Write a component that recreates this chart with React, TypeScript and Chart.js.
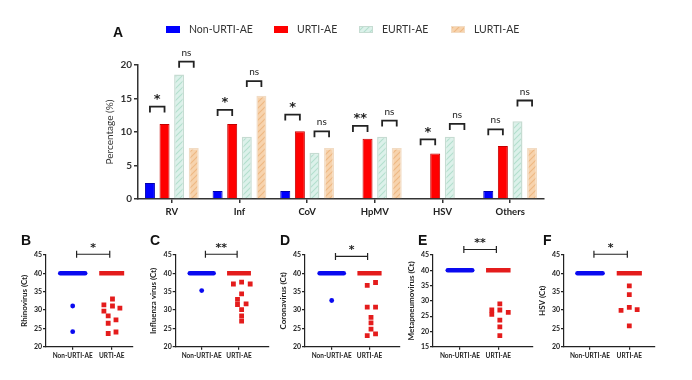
import React, { useEffect, useRef } from 'react';
import { Chart, registerables } from 'chart.js';

Chart.register(...registerables);

const FONT = 'Lato, "Noto Sans", sans-serif';
const STAR_FONT = '"DejaVu Sans", sans-serif';
Chart.defaults.font.family = FONT;

// ---------------- Panel A data ----------------
const virusCategories = ['RV', 'Inf', 'CoV', 'HpMV', 'HSV', 'Others'];
const seriesNames = ['Non-URTI-AE', 'URTI-AE', 'EURTI-AE', 'LURTI-AE'];
const nonUrtiPct = [2.4, 1.2, 1.2, 0, 0, 1.2];
const urtiPct = [11.2, 11.2, 10.1, 9.0, 6.8, 7.9];
const eurtiPct = [18.6, 9.3, 6.9, 9.3, 9.3, 11.6];
const lurtiPct = [7.6, 15.4, 7.6, 7.6, 0, 7.6];
// significance: Non-URTI-AE vs URTI-AE, and EURTI-AE vs LURTI-AE
const sigNonVsUrti = ['*', '*', '*', '**', '*', 'ns'];
const sigNonVsUrtiLevel = [13.8, 13.3, 12.6, 10.9, 8.9, 10.4];
const sigEarlyVsLate = ['ns', 'ns', 'ns', 'ns', 'ns', 'ns'];
const sigEarlyVsLateLevel = [20.5, 17.6, 10.1, 11.7, 11.2, 14.7];

// ---------------- Panels B-F data ----------------
const groupLabels = ['Non-URTI-AE', 'URTI-AE'];
const undetectedCt = 40;

const rvNonCt = [31.1, 24.1];
const rvNonJit = [0, 0];
const rvUrtiCt = [33.0, 31.4, 31.1, 30.5, 29.7, 28.4, 27.3, 26.4, 24.0, 23.6];
const rvUrtiJit = [0.02, -0.2, 0.02, 0.21, -0.2, -0.09, 0.11, -0.09, 0.11, -0.09];

const infNonCt = [35.3];
const infNonJit = [0];
const infUrtiCt = [37.1, 37.6, 37.1, 34.4, 32.9, 31.7, 31.5, 30.1, 28.4, 27.0];
const infUrtiJit = [-0.15, 0.07, 0.3, 0.07, -0.04, 0.19, -0.04, 0.07, 0.07, 0.07];

const covNonCt = [32.6];
const covNonJit = [0];
const covUrtiCt = [36.7, 37.5, 30.8, 30.8, 28.0, 26.5, 24.8, 23.5, 23.0];
const covUrtiJit = [-0.06, 0.16, -0.06, 0.16, 0.04, 0.04, 0.04, 0.16, -0.06];

const hmpvNonCt: number[] = [];
const hmpvNonJit: number[] = [];
const hmpvUrtiCt = [27.0, 25.6, 29.0, 27.0, 26.2, 23.7, 21.5, 18.6];
const hmpvUrtiJit = [-0.17, -0.17, 0.04, 0.04, 0.26, 0.04, 0.04, 0.04];

const hsvNonCt: number[] = [];
const hsvNonJit: number[] = [];
const hsvUrtiCt = [36.6, 34.2, 30.7, 29.9, 30.1, 25.7];
const hsvUrtiJit = [0, 0, 0, -0.21, 0.2, 0];

const panels = [
  { letter: 'B', yTitle: 'Rhinovirus (Ct)', yMin: 20, yMax: 45, nonCt: rvNonCt, nonJit: rvNonJit, urtiCt: rvUrtiCt, urtiJit: rvUrtiJit, sig: '*', sigLevel: 45.2 },
  { letter: 'C', yTitle: 'Influenza virus (Ct)', yMin: 20, yMax: 45, nonCt: infNonCt, nonJit: infNonJit, urtiCt: infUrtiCt, urtiJit: infUrtiJit, sig: '**', sigLevel: 45.2 },
  { letter: 'D', yTitle: 'Coronavirus (Ct)', yMin: 20, yMax: 45, nonCt: covNonCt, nonJit: covNonJit, urtiCt: covUrtiCt, urtiJit: covUrtiJit, sig: '*', sigLevel: 44.6 },
  { letter: 'E', yTitle: 'Metapneumovirus (Ct)', yMin: 15, yMax: 45, nonCt: hmpvNonCt, nonJit: hmpvNonJit, urtiCt: hmpvUrtiCt, urtiJit: hmpvUrtiJit, sig: '**', sigLevel: 46.8 },
  { letter: 'F', yTitle: 'HSV (Ct)', yMin: 20, yMax: 45, nonCt: hsvNonCt, nonJit: hsvNonJit, urtiCt: hsvUrtiCt, urtiJit: hsvUrtiJit, sig: '*', sigLevel: 45.2 },
];

// ---------------- Layout (positions only) ----------------
const panelLayout = [
  { axisX: 46, tick1: 72.7, tick2: 111.7, endX: 133, letterX: 21 },
  { axisX: 175.7, tick1: 201.7, tick2: 239, endX: 268.3, letterX: 150 },
  { axisX: 305, tick1: 331.7, tick2: 369.5, endX: 400, letterX: 280 },
  { axisX: 433, tick1: 460, tick2: 498.3, endX: 533, letterX: 418 },
  { axisX: 564, tick1: 590, tick2: 629.3, endX: 655, letterX: 543 },
];
const legendX = [166, 274, 359, 451];
const BLUE = '#0a0af0';
const RED = '#e41c1c';
const INK = '#222';

function hatch(bg: string, stripe: string): any {
  const c = document.createElement('canvas');
  c.width = 6;
  c.height = 6;
  const g = c.getContext('2d')!;
  g.fillStyle = bg;
  g.fillRect(0, 0, 6, 6);
  g.strokeStyle = stripe;
  g.lineWidth = 1.1;
  g.beginPath();
  g.moveTo(0, 6);
  g.lineTo(6, 0);
  g.moveTo(-1, 1);
  g.lineTo(1, -1);
  g.moveTo(5, 7);
  g.lineTo(7, 5);
  g.stroke();
  return g.createPattern(c, 'repeat');
}

const legendPlugin = {
  id: 'manualLegend',
  afterDraw(chart: any) {
    const ctx = chart.ctx;
    ctx.save();
    chart.data.datasets.forEach((ds: any, i: number) => {
      const x = legendX[i];
      const y = 26;
      ctx.fillStyle = ds.backgroundColor;
      ctx.fillRect(x, y, 14, 7);
      if (i >= 2) {
        ctx.strokeStyle = ds.borderColor;
        ctx.lineWidth = 1;
        ctx.strokeRect(x + 0.5, y + 0.5, 13, 6);
      }
      ctx.fillStyle = '#333';
      ctx.font = `10.5px ${FONT}`;
      ctx.textBaseline = 'middle';
      ctx.textAlign = 'left';
      ctx.fillText(ds.label, x + 23, y + 3.5);
    });
    ctx.restore();
  },
};

function drawSigA(ctx: any, x1: number, x2: number, yy: number, label: string) {
  ctx.beginPath();
  ctx.moveTo(x1, yy + 6);
  ctx.lineTo(x1, yy);
  ctx.lineTo(x2, yy);
  ctx.lineTo(x2, yy + 6);
  ctx.stroke();
  const cx = (x1 + x2) / 2;
  ctx.textAlign = 'center';
  ctx.textBaseline = 'alphabetic';
  if (label.includes('*')) {
    ctx.font = `bold 13px ${STAR_FONT}`;
    ctx.fillText(label, cx, yy - 3.5);
  } else {
    ctx.font = `10px ${FONT}`;
    ctx.fillText(label, cx, yy - 6);
  }
}

const sigPluginA = {
  id: 'sigA',
  afterDraw(chart: any) {
    const ctx = chart.ctx;
    const y = chart.scales.y;
    const m = [0, 1, 2, 3].map((i) => chart.getDatasetMeta(i));
    ctx.save();
    ctx.strokeStyle = INK;
    ctx.fillStyle = INK;
    ctx.lineWidth = 1.8;
    virusCategories.forEach((_, i) => {
      drawSigA(ctx, m[0].data[i].x, m[1].data[i].x, y.getPixelForValue(sigNonVsUrtiLevel[i]), sigNonVsUrti[i]);
      drawSigA(ctx, m[2].data[i].x, m[3].data[i].x, y.getPixelForValue(sigEarlyVsLateLevel[i]), sigEarlyVsLate[i]);
    });
    ctx.restore();
  },
};

function PanelA() {
  const ref = useRef<HTMLCanvasElement>(null);
  useEffect(() => {
    const green = hatch('#dcf1ea', '#b3dfce');
    const orange = hatch('#f7d3ad', '#eeb883');
    const axisGrid = { display: true, offset: false, drawOnChartArea: false, drawTicks: true, tickLength: 4, color: '#333', lineWidth: 1.5 };
    const chart = new Chart(ref.current!, {
      type: 'bar',
      data: {
        labels: virusCategories,
        datasets: [
          { label: seriesNames[0], data: nonUrtiPct, backgroundColor: '#0000ff', borderColor: '#0000b0', borderWidth: 1 },
          { label: seriesNames[1], data: urtiPct, backgroundColor: '#ff0000', borderColor: '#c40000', borderWidth: 1 },
          { label: seriesNames[2], data: eurtiPct, backgroundColor: green, borderColor: '#c6dcd2', borderWidth: 1.5 },
          { label: seriesNames[3], data: lurtiPct, backgroundColor: orange, borderColor: '#f2dcc4', borderWidth: 1.5 },
        ],
      },
      options: {
        responsive: false,
        animation: false,
        layout: { padding: { left: 104, right: 148, top: 65, bottom: 0 } },
        datasets: { bar: { categoryPercentage: 0.863, barPercentage: 0.685 } } as any,
        plugins: { legend: { display: false }, tooltip: { enabled: false } },
        scales: {
          x: {
            grid: axisGrid as any,
            border: { display: true, color: '#333', width: 1.5 },
            ticks: { font: { size: 9.5, weight: 'bold' }, color: INK, padding: 3, maxRotation: 0, autoSkip: false },
            afterFit: (s: any) => { s.height = 26; },
          },
          y: {
            min: 0,
            max: 20,
            grid: axisGrid as any,
            border: { display: true, color: '#333', width: 1.5 },
            ticks: { stepSize: 5, font: { size: 10, weight: 'bold' }, color: '#333', padding: 2 },
            title: { display: true, text: 'Percentage (%)', font: { size: 10 }, color: '#333', padding: 0 },
            afterFit: (s: any) => { s.width = 34; },
          },
        },
      },
      plugins: [legendPlugin, sigPluginA],
    });
    return () => chart.destroy();
  }, []);
  return (
    <canvas
      ref={ref}
      width={692}
      height={225}
      style={{ position: 'absolute', left: 0, top: 0, width: 692, height: 225 }}
    />
  );
}

const LINE_HALF = 0.32;

function ScatterPanel({ p, L }: { p: any; L: any }) {
  const ref = useRef<HTMLCanvasElement>(null);
  const W = 26;
  const left = Math.floor(L.axisX - W);
  const yAxisW = L.axisX - left;
  const width = Math.ceil(L.endX - left + 4);
  const top = 238;
  const height = 132;
  useEffect(() => {
    const unit = L.tick2 - L.tick1;
    const xMin = 1 - (L.tick1 - L.axisX) / unit;
    const xMax = 2 + (L.endX - L.tick2) / unit;
    const sigPlugin = {
      id: 'sigSmall',
      afterDraw(chart: any) {
        const ctx = chart.ctx;
        const xs = chart.scales.x;
        const ys = chart.scales.y;
        const x1 = xs.getPixelForValue(1.1);
        const x2 = xs.getPixelForValue(1.95);
        const yy = ys.getPixelForValue(p.sigLevel);
        ctx.save();
        ctx.strokeStyle = INK;
        ctx.fillStyle = INK;
        ctx.lineWidth = 1.2;
        ctx.beginPath();
        ctx.moveTo(x1, yy);
        ctx.lineTo(x2, yy);
        ctx.moveTo(x1, yy - 3.5);
        ctx.lineTo(x1, yy + 3.5);
        ctx.moveTo(x2, yy - 3.5);
        ctx.lineTo(x2, yy + 3.5);
        ctx.stroke();
        ctx.font = `bold 11px ${STAR_FONT}`;
        ctx.textAlign = 'center';
        ctx.textBaseline = 'alphabetic';
        ctx.fillText(p.sig, (x1 + x2) / 2, yy - 3);
        ctx.restore();
      },
    };
    const axisGrid = { display: true, drawOnChartArea: false, drawTicks: true, tickLength: 3, color: INK, lineWidth: 1.2 };
    const chart = new Chart(ref.current!, {
      type: 'scatter',
      data: {
        datasets: [
          {
            type: 'line',
            data: [{ x: 1 - LINE_HALF, y: undetectedCt }, { x: 1 + LINE_HALF, y: undetectedCt }],
            borderColor: BLUE,
            borderWidth: 4.5,
            borderCapStyle: 'round',
            pointRadius: 0,
            showLine: true,
          } as any,
          {
            type: 'line',
            data: [{ x: 2 - LINE_HALF, y: undetectedCt }, { x: 2 + LINE_HALF, y: undetectedCt }],
            borderColor: RED,
            borderWidth: 4.5,
            borderCapStyle: 'butt',
            pointRadius: 0,
            showLine: true,
          } as any,
          {
            data: p.nonCt.map((v: number, i: number) => ({ x: 1 + p.nonJit[i], y: v })),
            pointStyle: 'circle',
            pointRadius: 2.4,
            backgroundColor: BLUE,
            borderWidth: 0,
          },
          {
            data: p.urtiCt.map((v: number, i: number) => ({ x: 2 + p.urtiJit[i], y: v })),
            pointStyle: 'rect',
            pointRadius: 3.4,
            backgroundColor: RED,
            borderWidth: 0,
          },
        ],
      },
      options: {
        responsive: false,
        animation: false,
        layout: { padding: { left: 0, right: width - (L.endX - left), top: 255 - top, bottom: 0 } },
        plugins: { legend: { display: false }, tooltip: { enabled: false } },
        scales: {
          x: {
            type: 'linear',
            min: xMin,
            max: xMax,
            afterBuildTicks: (s: any) => { s.ticks = [{ value: 1 }, { value: 2 }]; },
            grid: axisGrid as any,
            border: { display: true, color: INK, width: 1.2 },
            ticks: {
              callback: (v: any) => groupLabels[Math.round(v) - 1],
              font: { size: 6.5, weight: 'bold' },
              color: INK,
              padding: 2,
              maxRotation: 0,
              autoSkip: false,
            },
            afterFit: (s: any) => { s.height = top + height - 346.7; },
          },
          y: {
            min: p.yMin,
            max: p.yMax,
            grid: axisGrid as any,
            border: { display: true, color: INK, width: 1.2 },
            ticks: { stepSize: 5, font: { size: 7, weight: 'bold' }, color: INK, padding: 1 },
            title: { display: true, text: p.yTitle, font: { size: 8, weight: 'bold' }, color: INK, padding: 0 },
            afterFit: (s: any) => { s.width = yAxisW; },
          },
        },
      },
      plugins: [sigPlugin],
    });
    return () => chart.destroy();
  }, []);
  return (
    <canvas
      ref={ref}
      width={width}
      height={height}
      style={{ position: 'absolute', left, top, width, height }}
    />
  );
}

const letterStyle = (x: number, y: number): React.CSSProperties => ({
  position: 'absolute',
  left: x,
  top: y,
  fontFamily: '"Liberation Sans", Arial, sans-serif',
  fontWeight: 'bold',
  fontSize: 14,
  lineHeight: 1,
  color: '#111',
});

export default function App() {
  return (
    <div
      style={{
        position: 'fixed',
        left: 0,
        top: 0,
        width: 692,
        height: 380,
        background: '#fff',
        overflow: 'hidden',
      }}
    >
      <PanelA />
      <span style={letterStyle(113, 25)}>A</span>
      {panels.map((p, i) => (
        <React.Fragment key={p.letter}>
          <ScatterPanel p={p} L={panelLayout[i]} />
          <span style={letterStyle(panelLayout[i].letterX, 233)}>{p.letter}</span>
        </React.Fragment>
      ))}
    </div>
  );
}
